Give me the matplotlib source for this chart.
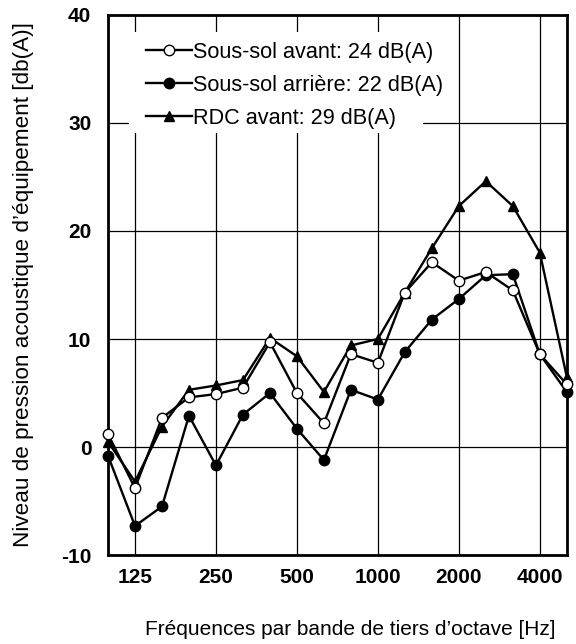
import matplotlib
matplotlib.use("Agg")
import matplotlib.pyplot as plt
from matplotlib.patches import Rectangle

plt.rcParams['font.family'] = ['Liberation Sans', 'DejaVu Sans']
plt.rcParams['axes.unicode_minus'] = False

# third-octave bands 100 Hz .. 5000 Hz
bands = [100, 125, 160, 200, 250, 315, 400, 500, 630, 800,
         1000, 1250, 1600, 2000, 2500, 3150, 4000, 5000]
tick_bands = [125, 250, 500, 1000, 2000, 4000]

sous_sol_avant = [1.2, -3.8, 2.7, 4.6, 4.9, 5.5, 9.7, 5.0, 2.2, 8.6,
                  7.8, 14.3, 17.1, 15.4, 16.2, 14.5, 8.6, 5.8]
sous_sol_arriere = [-0.8, -7.3, -5.5, 2.9, -1.7, 3.0, 5.0, 1.7, -1.2, 5.3,
                    4.4, 8.8, 11.8, 13.7, 15.9, 16.0, 8.6, 5.1]
rdc_avant = [0.5, -3.2, 1.9, 5.3, 5.7, 6.2, 10.1, 8.4, 5.1, 9.4,
             10.0, 14.3, 18.4, 22.3, 24.6, 22.3, 18.0, 6.5]

labels = ["Sous-sol avant: 24 dB(A)",
          "Sous-sol arrière: 22 dB(A)",
          "RDC avant: 29 dB(A)"]

x = list(range(len(bands)))

fig = plt.figure(figsize=(5.76, 6.44), dpi=100)
ax = fig.add_axes([0.1875, 0.138, 0.7965, 0.839])

ax.plot(x, sous_sol_avant, color='black', lw=1.7, marker='o', ms=7.5,
        mfc='white', mec='black', mew=1.0, label=labels[0], zorder=4, clip_on=False)
ax.plot(x, sous_sol_arriere, color='black', lw=1.7, marker='o', ms=7.5,
        mfc='black', mec='black', label=labels[1], zorder=3, clip_on=False)
ax.plot(x, rdc_avant, color='black', lw=1.7, marker='^', ms=7.5,
        mfc='black', mec='black', label=labels[2], zorder=3, clip_on=False)

ax.set_xlim(0, len(bands) - 1)
ax.set_ylim(-10, 40)
ax.set_xticks([bands.index(b) for b in tick_bands])
ax.set_xticklabels([str(b) for b in tick_bands])
ax.set_yticks(range(-10, 41, 10))
ax.tick_params(length=0, labelsize=15)
ax.tick_params(axis='x', pad=9)
ax.tick_params(axis='y', pad=12)
for t in ax.get_xticklabels() + ax.get_yticklabels():
    t.set_fontweight('bold')

ax.grid(True, color='black', lw=0.9)
ax.set_axisbelow(True)
for s in ax.spines.values():
    s.set_linewidth(2)

ax.set_xlabel("Fréquences par bande de tiers d\u2019octave [Hz]", fontsize=15)
ax.xaxis.set_label_coords(0.528, -0.12)
ax.set_ylabel("Niveau de pression acoustique d\u2019équipement [db(A)]", fontsize=16.2)
ax.yaxis.set_label_coords(-0.161, 0.5)

# white patch behind the legend (hides the grid there)
ax.add_patch(Rectangle((0.0458, 0.7815), 0.64, 0.187, transform=ax.transAxes,
                       facecolor='white', edgecolor='none', zorder=2))

leg = ax.legend(loc='upper left', bbox_to_anchor=(0.0547, 0.974), borderaxespad=0,
                fontsize=15.6, frameon=False, borderpad=0.6, handletextpad=0.05,
                handlelength=2.1, labelspacing=0.55)
leg.set_zorder(5)

fig.savefig("out.png", dpi=100)
